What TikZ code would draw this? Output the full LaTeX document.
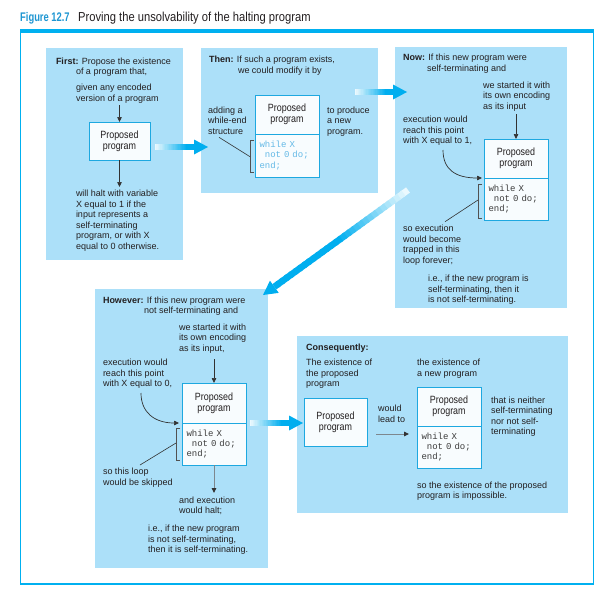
\documentclass[tikz,border=0pt]{standalone}
\usepackage{fontspec}
\setmainfont{Liberation Sans}
\newfontfamily\condfont[FakeStretch=0.85]{Liberation Sans}
\newfontfamily\titlefam[FakeStretch=0.86]{Liberation Sans}
\newfontfamily\figfam[FakeStretch=0.75]{Liberation Sans}
\newfontfamily\codefam{Liberation Mono}
\usetikzlibrary{arrows.meta,calc}

\definecolor{panelblue}{RGB}{172,224,249}
\definecolor{framecyan}{RGB}{0,176,240}
\definecolor{boxcyan}{RGB}{30,168,224}
\definecolor{boxfill}{RGB}{248,252,254}
\definecolor{textcol}{RGB}{35,31,32}
\definecolor{titlecyan}{RGB}{30,150,210}
\definecolor{fatcyan}{RGB}{0,174,239}
\definecolor{codeblue}{RGB}{100,185,230}
\definecolor{arrowdark}{RGB}{50,50,50}
\definecolor{arrowgray}{RGB}{125,135,142}
\definecolor{codegray}{RGB}{60,60,60}

\newcommand{\fatarrow}[3]{%
  \coordinate (fa-base) at ($(#2)!14pt!(#1)$);
  \foreach \i in {0,...,29}{%
    \pgfmathsetmacro{\pa}{\i/30}%
    \pgfmathsetmacro{\pb}{min(1,(\i+1.4)/30)}%
    \pgfmathsetmacro{\pc}{min(100,8+92*\i/(30*#3))}%
    \draw[line width=6.5pt, fatcyan!\pc!white] ($(#1)!\pa!(fa-base)$) -- ($(#1)!\pb!(fa-base)$);
  }
  \fill[fatcyan] (#2) -- ($(fa-base)!7.5pt!90:(#2)$) -- ($(fa-base)!7.5pt!-90:(#2)$) -- cycle;
}

\begin{document}
\begin{tikzpicture}[x=1pt,y=-1pt,
  panel/.style={fill=panelblue, inner sep=0pt, outer sep=0pt, anchor=north west},
  txt/.style={anchor=north west, inner sep=0pt, outer sep=0pt, align=left, text=textcol,
    font=\fontsize{9}{10.5}\selectfont, execute at begin node={\rule{0pt}{7pt}}},
  lbox/.style={draw=boxcyan, fill=boxfill, line width=0.9pt, inner sep=0pt, outer sep=0pt,
    anchor=north west, align=center, text=textcol, font=\condfont\fontsize{10.5}{10.7}\selectfont},
  cbox/.style={draw=boxcyan, fill=boxfill, line width=0.9pt, inner xsep=4.5pt, inner ysep=0pt,
    outer sep=0pt, anchor=north west, align=left, text width=55pt, minimum width=64pt, text=codegray,
    font=\codefam\fontsize{9}{10.2}\selectfont},
  thinarrow/.style={draw=arrowdark, line width=0.7pt, -{Triangle[length=5pt,width=4.5pt]}},
  grayarrow/.style={draw=arrowgray, line width=0.9pt, -{Triangle[length=5pt,width=4.5pt,color=arrowdark]}},
  leader/.style={draw=arrowdark, line width=0.6pt},
  bracket/.style={draw=arrowdark!85, line width=0.8pt}
]
\useasboundingbox (0,0) rectangle (612,597);
\fill[white] (0,0) rectangle (612,597);

% title and frame
\node[anchor=base west, inner sep=0pt, text=titlecyan, font=\figfam\bfseries\fontsize{12.5}{15}\selectfont] (fig) at (20,21.5) {Figure 12.7};
\node[anchor=base west, inner sep=0pt, text=textcol, font=\titlefam\fontsize{13}{15}\selectfont] (title) at (78,21.5) {Proving the unsolvability of the halting program};
\fill[framecyan] (20,28.5) rectangle (594,32.8);
\draw[framecyan, line width=1.1pt] (20.5,32.8) -- (20.5,584) -- (593.3,584) -- (593.3,32.8);

% panels
\node[panel, minimum width=137.3pt, minimum height=211.7pt] (p1) at (46,48.3) {};
\node[panel, minimum width=177.3pt, minimum height=145pt] (p2) at (201,48.3) {};
\node[panel, minimum width=172pt, minimum height=261pt] (p3) at (395,47) {};
\node[panel, minimum width=172.7pt, minimum height=279pt] (p4) at (95,289.3) {};
\node[panel, minimum width=271pt, minimum height=176.7pt] (p5) at (296.7,336) {};

% panel 1
\node[txt] (t1a) at (56,57.5) {\textbf{First:} Propose the existence\\\hspace*{20pt}of a program that,};
\node[txt] (t1c) at (76,84) {given any encoded\\version of a program};
\node[lbox, minimum width=61pt, minimum height=38pt] (b1) at (89,122) {Proposed\\program};
\node[txt] (t1d) at (76,190) {will halt with variable\\X equal to 1 if the\\input represents a\\self-terminating\\program, or with X\\equal to 0 otherwise.};
\coordinate (a1s) at (119.5,105);
\coordinate (a1e) at (119.5,187);
\draw[thinarrow] (a1s) -- (b1.north);
\draw[thinarrow] (b1.south) -- (a1e);

% panel 2
\node[txt] (t2a) at (209,56) {\textbf{Then:} If such a program exists,\\\hspace*{29pt}we could modify it by};
\node[txt] (t2b) at (208,106.5) {adding a\\while-end\\structure};
\node[txt] (t2c) at (327,106.5) {to produce\\a new\\program.};
\node[lbox, minimum width=64pt, minimum height=39pt] (b2) at (255,95) {Proposed\\program};
\node[cbox, minimum height=43pt, text=codeblue] (c2) at (255,134) {while X\\\hspace*{0.6em}not 0 do;\\end;};
\draw[bracket] (254,140) -- (250,140) -- (250,172) -- (254,172);
\coordinate (l2s) at (219,137.3);
\coordinate (l2e) at (250,156.7);
\draw[leader] (l2s) -- (l2e);

% panel 3
\node[txt] (t3a) at (403,54) {\textbf{Now:} If this new program were\\\hspace*{24pt}self-terminating and};
\node[txt] (t3b) at (483,81.5) {we started it with\\its own encoding\\as its input};
\node[txt] (t3c) at (403,116) {execution would\\reach this point\\with X equal to 1,};
\node[lbox, minimum width=64pt, minimum height=39pt] (b3) at (484,139) {Proposed\\program};
\node[cbox, minimum height=42pt] (c3) at (484,178) {while X\\\hspace*{0.6em}not 0 do;\\end;};
\node[txt] (t3d) at (403,225) {so execution\\would become\\trapped in this\\loop forever;};
\node[txt] (t3e) at (428,275) {i.e., if the new program is\\self-terminating, then it\\is not self-terminating.};
\coordinate (a3s) at (516,114);
\draw[thinarrow] (a3s) -- (b3.north);
\coordinate (cv3s) at (443,150);
\draw[thinarrow, shorten >=2pt] (cv3s) .. controls (443,170) and (456,178) .. (c3.north west);
\draw[bracket] (482,184) -- (478,184) -- (478,218) -- (482,218);
\coordinate (l3s) at (445,221.7);
\coordinate (l3e) at (478,200);
\draw[leader] (l3s) -- (l3e);

% panel 4
\node[txt] (t4a) at (103,296.5) {\textbf{However:} If this new program were\\\hspace*{41pt}not self-terminating and};
\node[txt] (t4b) at (179,323.5) {we started it with\\its own encoding\\as its input,};
\node[txt] (t4c) at (103,359) {execution would\\reach this point\\with X equal to 0,};
\node[lbox, minimum width=64pt, minimum height=40pt] (b4) at (182,383) {Proposed\\program};
\node[cbox, minimum height=42pt] (c4) at (182,423) {while X\\\hspace*{0.6em}not 0 do;\\end;};
\node[txt] (t4d) at (103,468) {so this loop\\would be skipped};
\node[txt] (t4e) at (179,496.5) {and execution\\would halt;};
\node[txt] (t4f) at (148,525) {i.e., if the new program\\is not self-terminating,\\then it is self-terminating.};
\coordinate (a4s) at (214,359);
\coordinate (a4e) at (214,493);
\draw[thinarrow] (a4s) -- (b4.north);
\draw[grayarrow] (c4.south) -- (a4e);
\coordinate (cv4s) at (141,393);
\draw[thinarrow, shorten >=3pt] (cv4s) .. controls (141,412) and (154,423) .. (c4.north west);
\draw[bracket] (180,428) -- (176,428) -- (176,460) -- (180,460);
\coordinate (l4s) at (140,465);
\coordinate (l4e) at (176,443);
\draw[leader] (l4s) -- (l4e);

% panel 5
\node[txt] (t5a) at (306,343) {\textbf{Consequently:}};
\node[txt] (t5b) at (306,359) {The existence of\\the proposed\\program};
\node[lbox, minimum width=63pt, minimum height=48pt] (b5) at (304,398) {Proposed\\program};
\node[txt] (t5c) at (378,405) {would\\lead to};
\node[txt] (t5d) at (417,359) {the existence of\\a new program};
\node[lbox, minimum width=64pt, minimum height=39pt] (b6) at (417,387) {Proposed\\program};
\node[cbox, minimum height=42pt] (c6) at (417,426) {while X\\\hspace*{0.6em}not 0 do;\\end;};
\node[txt] (t5e) at (491,396.5) {that is neither\\self-terminating\\nor not self-\\terminating};
\node[txt] (t5f) at (417,481.5) {so the existence of the proposed\\program is impossible.};
\coordinate (a5s) at (376,434);
\coordinate (a5e) at (409,434);
\draw[grayarrow] (a5s) -- (a5e);

% fat arrows between panels
\coordinate (f1t) at (155,147);
\coordinate (f1h) at (208,147);
\fatarrow{f1t}{f1h}{0.8}
\coordinate (f2t) at (355,92);
\coordinate (f2h) at (407,92);
\fatarrow{f2t}{f2h}{0.8}
\coordinate (f3t) at (408,190);
\coordinate (f3h) at (263,295);
\fatarrow{f3t}{f3h}{0.5}
\coordinate (f4t) at (250,423);
\coordinate (f4h) at (303,423);
\fatarrow{f4t}{f4h}{0.8}
\end{tikzpicture}
\end{document}
